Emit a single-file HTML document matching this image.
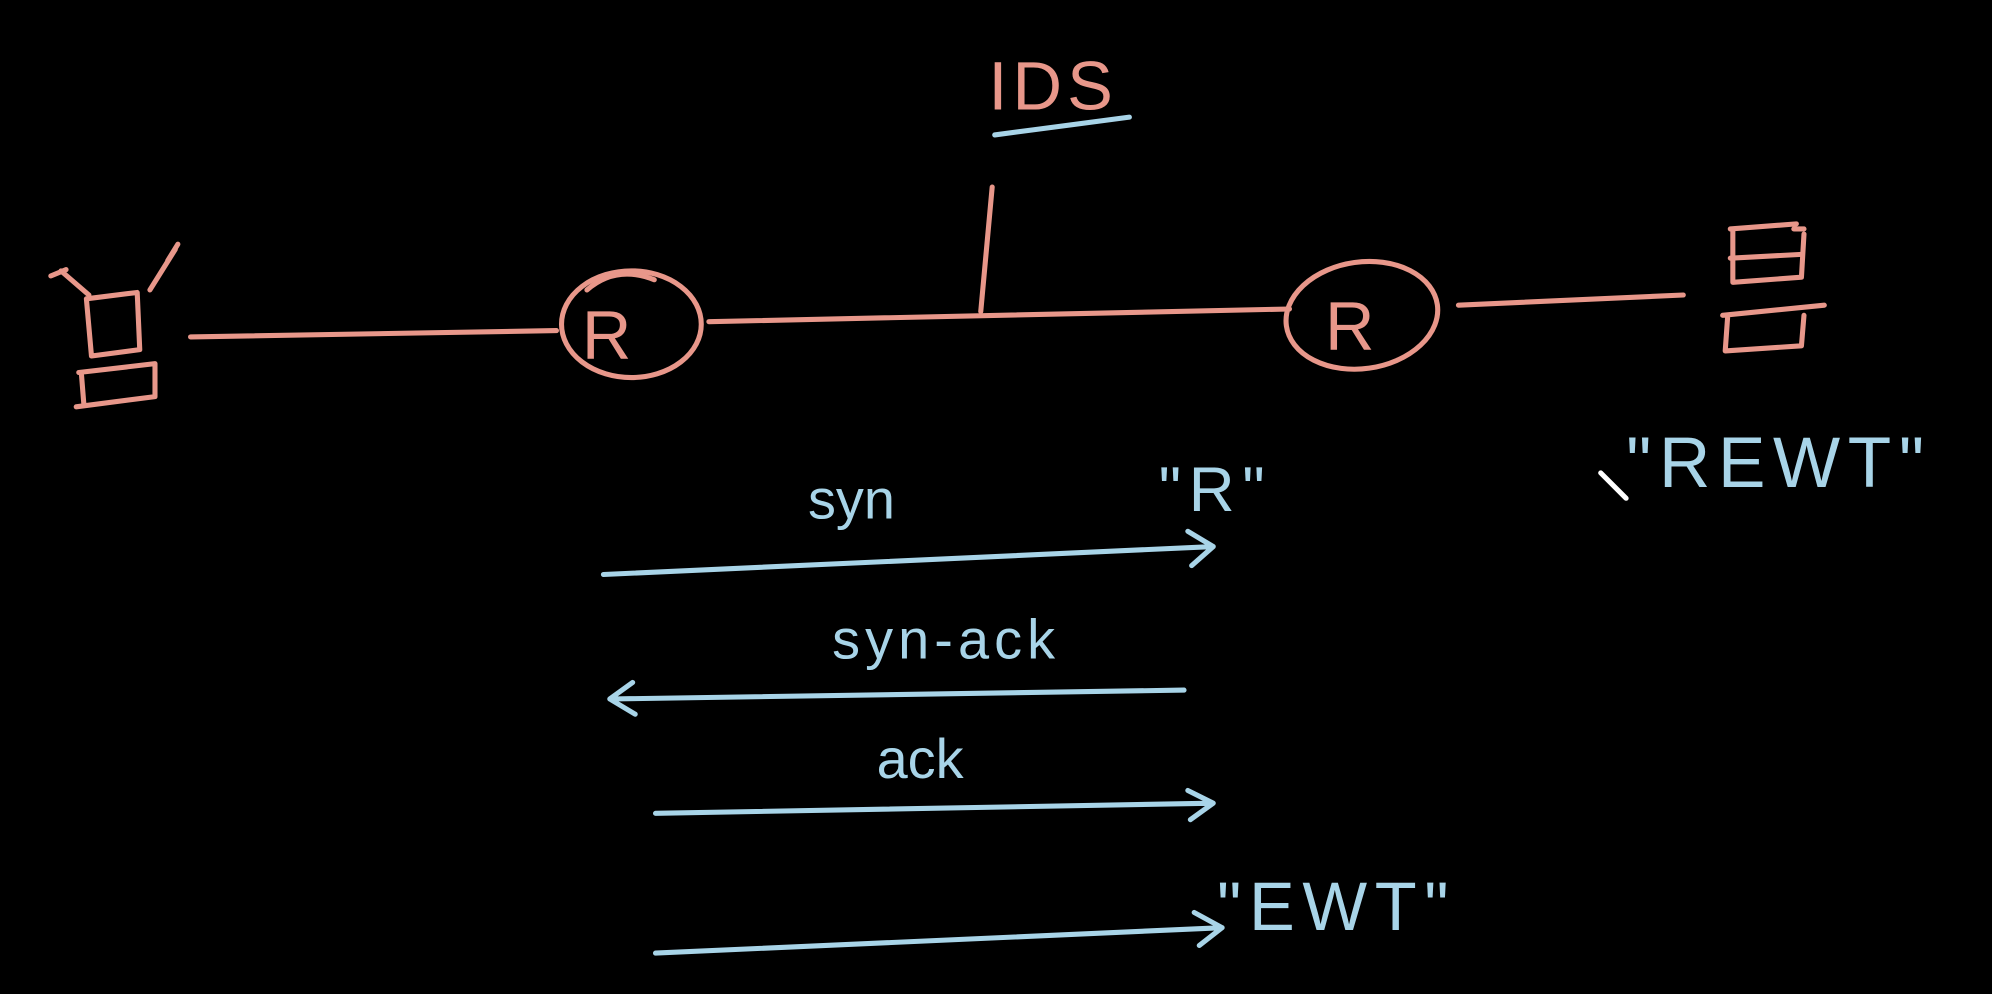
<!DOCTYPE html>
<html><head><style>html,body{margin:0;padding:0;background:#000;overflow:hidden}svg{display:block}</style></head>
<body>
<svg width="1992" height="994" viewBox="0 0 1568 782" xmlns="http://www.w3.org/2000/svg">
<rect width="1568" height="782" fill="#000"/>
<g stroke="#e8978a" stroke-width="4" fill="none" stroke-linecap="round" stroke-linejoin="round">
<path d="M40 217 L52 212 M48 213 L70 232"/>
<path d="M140 192 L132 205 M138 196 L118 228"/>
<path d="M68 235 L108 230 L110 275 L72 280 Z"/>
<path d="M62 293 L122 286 L122 312 L60 320 M64 293 L66 318"/>
<path d="M150 265 L438 260"/>
<ellipse cx="497" cy="255" rx="55" ry="42"/>
<path d="M462 228 Q485 208 515 220"/>
<path d="M558 253 L1015 243"/>
<path d="M781 147 L772 245"/>
<path d="M783 106 L889 92" stroke="#a8d4e8"/>
<ellipse cx="1072" cy="248" rx="60" ry="42" transform="rotate(-8 1072 248)"/>
<path d="M1148 240 L1325 232"/>
<path d="M1362 180 L1414 176 M1364 180 L1364 222 L1418 218 L1420 184 M1420 180 L1412 180"/>
<path d="M1356 248 L1436 240 M1360 248 L1358 276 L1418 272 L1420 248"/>
<path d="M1362 203 L1418 200"/>
</g>
<g font-family="Liberation Sans, sans-serif" fill="#e8978a">
<text x="458" y="282" font-size="54">R</text>
<text x="1043" y="275" font-size="54">R</text>
</g>
<g font-family="Liberation Sans, sans-serif" fill="#a8d4e8">
<text x="778" y="86" font-size="54" fill="#e8978a" letter-spacing="4">IDS</text>
<text x="1280" y="383" font-size="56" letter-spacing="6">"REWT"</text>
<text x="636" y="408" font-size="44">syn</text>
<text x="912" y="402" font-size="50" letter-spacing="6">"R"</text>
<text x="655" y="518" font-size="44" letter-spacing="4">syn-ack</text>
<text x="690" y="612" font-size="44">ack</text>
<text x="958" y="732" font-size="54" letter-spacing="6">"EWT"</text>
</g>
<g stroke="#a8d4e8" stroke-width="4" fill="none" stroke-linecap="round" stroke-linejoin="round">
<path d="M475 452 L955 430 M935 418 L955 430 L938 445"/>
<path d="M932 543 L480 550 M498 537 L480 550 L500 562"/>
<path d="M516 640 L955 632 M935 622 L955 632 L937 645"/>
<path d="M516 750 L962 730 M940 718 L962 730 L944 744"/>
<path d="M1260 372 L1280 392" stroke="#fff"/>
</g>
</svg>
</body></html>
